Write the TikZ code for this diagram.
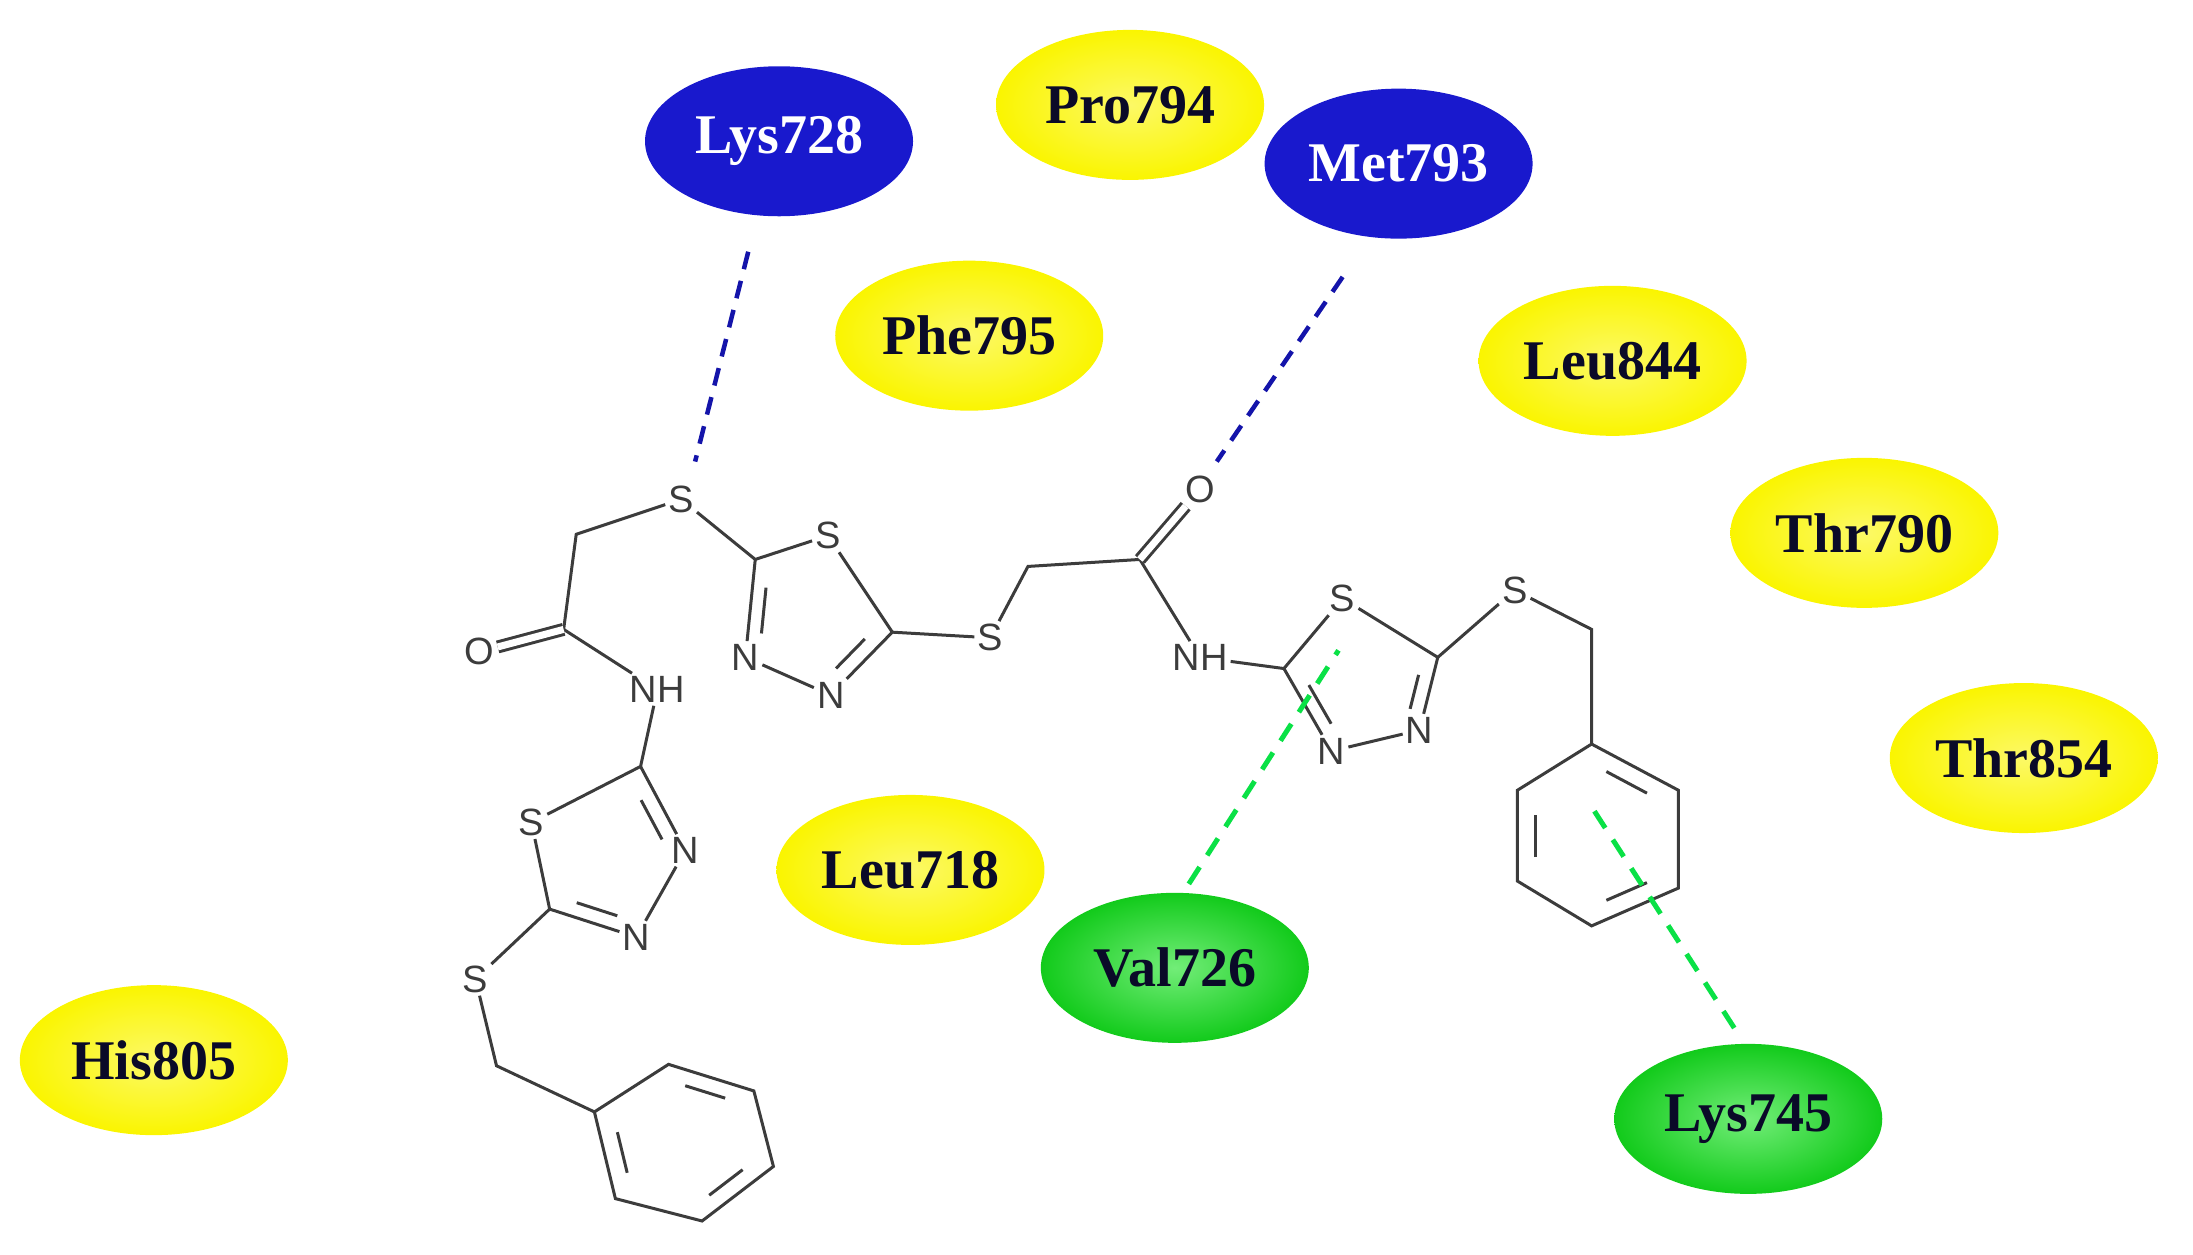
\documentclass[tikz,border=0pt]{standalone}
\usepackage{fontspec}
\setmainfont{Liberation Serif}
\newfontfamily\atomfont{Liberation Sans}
\usetikzlibrary{calc,shapes.geometric}
\definecolor{ylw}{RGB}{250,245,0}
\definecolor{grn}{RGB}{20,225,30}
\definecolor{blu}{RGB}{25,25,205}
\definecolor{txt}{RGB}{10,10,40}
\definecolor{bond}{RGB}{60,60,60}
\definecolor{hbblue}{RGB}{20,20,170}
\definecolor{hbgreen}{RGB}{10,225,70}
\tikzset{
 res/.style={ellipse,minimum width=268pt,minimum height=150pt,inner sep=0pt,
   font=\fontsize{56}{60}\selectfont\bfseries,text=txt},
 yres/.style={res,shading=radial,inner color=ylw!60!white,outer color=ylw},
 gres/.style={res,shading=radial,inner color=grn!60!white,outer color=grn!90!black},
 bres/.style={res,fill=blu,text=white},
 atom/.style={inner sep=3pt,font=\atomfont\fontsize{38}{40}\selectfont,text=bond},
 bd/.style={draw=bond,line width=3pt},
 dbd/.style={bd,double=white,double distance=7pt},
 hbb/.style={draw=hbblue,line width=4.5pt,dash pattern=on 18pt off 12pt},
 hbg/.style={draw=hbgreen,line width=5pt,dash pattern=on 20pt off 14pt}
}
\newcommand{\inner}[3]{\draw[bd] ($($(#1)!0.2!(#2)$)!0.22!(#3)$) -- ($($(#1)!0.8!(#2)$)!0.22!(#3)$);}
\begin{document}
\begin{tikzpicture}[x=1.3986pt,y=-1.3986pt]
\useasboundingbox (0,0) rectangle (1568,897.3);
% residues
\node[bres] (lys728) at (557,101) {Lys728};
\node[yres] (pro794) at (808,75) {Pro794};
\node[bres] (met793) at (1000,117) {Met793};
\node[yres] (phe795) at (693,240) {Phe795};
\node[yres] (leu844) at (1153,258) {Leu844};
\node[yres] (thr790) at (1333,381) {Thr790};
\node[yres] (thr854) at (1447,542) {Thr854};
\node[yres] (leu718) at (651,622) {Leu718};
\node[gres] (val726) at (840,692) {Val726};
\node[gres] (lys745) at (1250,800) {Lys745};
\node[yres] (his805) at (110,758) {His805};
% atoms
\node[atom] (S1) at (487,357) {S};
\coordinate (Ca) at (412,382);
\coordinate (Cc) at (403,450);
\node[atom] (O1) at (343,466) {O};
\node[atom] (N1H) at (470,493) {NH};
\coordinate (LC2) at (458,548);
\node[atom] (LS) at (380,588) {S};
\node[atom] (LN1) at (490,608) {N};
\node[atom] (LN2) at (455,670) {N};
\coordinate (LC5) at (393,650);
\coordinate (Lctr) at (437,615);
\node[atom] (S2) at (340,700) {S};
\coordinate (CH2b) at (355,762);
\coordinate (a1) at (425,795); \coordinate (a2) at (478,761); \coordinate (a3) at (539,780);
\coordinate (a4) at (553,834); \coordinate (a5) at (502,873); \coordinate (a6) at (440,857);
\coordinate (actr) at (489,817);
\coordinate (R1C2) at (540,400);
\node[atom] (R1S) at (592,383) {S};
\coordinate (R1C5) at (638,452);
\node[atom] (R1N1) at (533,470) {N};
\node[atom] (R1N2) at (594,497) {N};
\coordinate (R1ctr) at (580,442);
\node[atom] (S3) at (708,456) {S};
\coordinate (Cb) at (735,405);
\coordinate (Cd) at (815,400);
\node[atom] (O2) at (858,350) {O};
\node[atom] (N2H) at (858,470) {NH};
\coordinate (R2C2) at (918,478);
\node[atom] (R2S) at (960,428) {S};
\coordinate (R2C5) at (1028,470);
\node[atom] (R2N2) at (1015,522) {N};
\node[atom] (R2N1) at (952,537) {N};
\coordinate (R2ctr) at (975,490);
\node[atom] (S4) at (1083,422) {S};
\coordinate (CH2c) at (1138,450);
\coordinate (b1) at (1138,532); \coordinate (b2) at (1200,565); \coordinate (b3) at (1200,635);
\coordinate (b4) at (1138,662); \coordinate (b5) at (1085,630); \coordinate (b6) at (1085,565);
\coordinate (bctr) at (1142,598);
% bonds
\draw[bd] (S1) -- (Ca) -- (Cc) -- (N1H) -- (LC2) -- (LS) -- (LC5) -- (S2) -- (CH2b) -- (a1);
\draw[dbd] (Cc) -- (O1);
\draw[bd] (LC2) -- (LN1) -- (LN2) -- (LC5);
\inner{LC2}{LN1}{Lctr} \inner{LC5}{LN2}{Lctr}
\draw[bd] (a1) -- (a2) -- (a3) -- (a4) -- (a5) -- (a6) -- (a1);
\inner{a2}{a3}{actr} \inner{a4}{a5}{actr} \inner{a6}{a1}{actr}
\draw[bd] (S1) -- (R1C2) -- (R1S) -- (R1C5) -- (R1N2) -- (R1N1) -- (R1C2);
\inner{R1C2}{R1N1}{R1ctr} \inner{R1C5}{R1N2}{R1ctr}
\draw[bd] (R1C5) -- (S3) -- (Cb) -- (Cd) -- (N2H) -- (R2C2);
\draw[dbd] (Cd) -- (O2);
\draw[bd] (R2C2) -- (R2S) -- (R2C5) -- (R2N2) -- (R2N1) -- (R2C2);
\inner{R2C2}{R2N1}{R2ctr} \inner{R2C5}{R2N2}{R2ctr}
\draw[bd] (R2C5) -- (S4) -- (CH2c) -- (b1) -- (b2) -- (b3) -- (b4) -- (b5) -- (b6) -- (b1);
\inner{b1}{b2}{bctr} \inner{b3}{b4}{bctr} \inner{b5}{b6}{bctr}
% interactions
\coordinate (h1) at (535,180); \coordinate (h1e) at (497,330);
\coordinate (h2) at (960,198); \coordinate (h2e) at (870,330);
\coordinate (g1) at (850,632); \coordinate (g1e) at (957,465);
\coordinate (g2) at (1240,735); \coordinate (g2e) at (1140,580);
\draw[hbb] (h1) -- (h1e);
\draw[hbb] (h2) -- (h2e);
\draw[hbg] (g1) -- (g1e);
\draw[hbg] (g2) -- (g2e);
\end{tikzpicture}
\end{document}
